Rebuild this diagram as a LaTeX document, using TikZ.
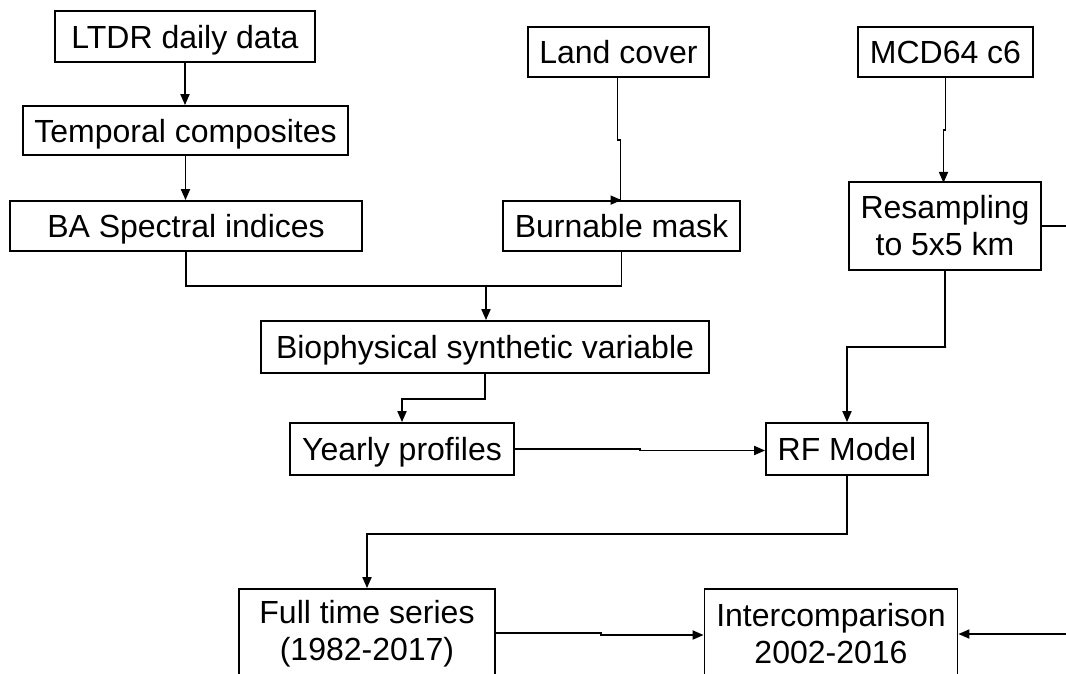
\documentclass[tikz,border=0pt]{standalone}
\usepackage{fontspec}
\setmainfont{Liberation Sans}
\usetikzlibrary{arrows.meta}
\tikzset{
  box/.style={draw=black, line width=1.8pt, fill=white, inner sep=0pt, align=center,
    font=\fontsize{32}{37}\selectfont},
  single/.style={text height=23pt, text depth=0pt},
  conn/.style={draw=black, line width=1.8pt},
  arr/.style={conn, -{Triangle[length=11pt,width=9pt]}}
}
\begin{document}
\begin{tikzpicture}[x=1pt,y=-1pt]
\useasboundingbox (0,0) rectangle (1066,673);
\clip (0,0) rectangle (1066,673);
\fill[white] (0,0) rectangle (1066,673);
% nodes
\node[box, single, minimum width=260pt, minimum height=51pt] (ltdr) at (185,36.5) {LTDR daily data};
\node[box, single, minimum width=325pt, minimum height=49pt] (temp) at (185.5,130.5) {Temporal composites};
\node[box, single, minimum width=352pt, minimum height=50pt] (ba) at (186,226) {BA Spectral indices};
\node[box, single, minimum width=181pt, minimum height=50pt] (land) at (618.5,52) {Land cover};
\node[box, single, minimum width=237pt, minimum height=50pt] (burn) at (621.5,226) {Burnable mask};
\node[box, single, minimum width=175pt, minimum height=50pt] (mcd) at (945.5,52) {MCD64 c6};
\node[box, minimum width=192pt, minimum height=88pt] (res) at (945,226) {Resampling\\to 5x5 km};
\node[box, single, minimum width=448pt, minimum height=52pt] (bio) at (485,347) {Biophysical synthetic variable};
\node[box, single, minimum width=224pt, minimum height=52pt] (yearly) at (402,449) {Yearly profiles};
\node[box, single, minimum width=162pt, minimum height=52pt] (rf) at (847,449) {RF Model};
\node[box, minimum width=256pt, minimum height=90pt] (full) at (367,634) {Full time series\\(1982-2017)};
\node[box, minimum width=253pt, minimum height=90pt] (inter) at (831,634) {Intercomparison\\2002-2016};
% coordinates
\coordinate (j1) at (486,286);
\coordinate (j2) at (946,347);
\coordinate (redge) at (1068,226);
\coordinate (iedge) at (1068,634);
% connectors
\draw[arr] (ltdr.south) -- (ltdr.south |- temp.north);
\draw[arr] (temp.south) -- (temp.south |- ba.north);
\draw[arr] (land.south) ++(-1,0) -- ++(0,62) -- ++(3,0) |- (burn.north);
\draw[arr] (mcd.south) -- ++(0,52) -- ++(-2,0) -- ++(0,53);
\draw[conn] (ba.south) |- (j1) -| (burn.south);
\draw[arr] (j1) -- (j1 |- bio.north);
\draw[arr] (bio.south) -- ++(0,25) -| (yearly.north);
\draw[arr] (yearly.east) -- ++(125,0) -- ++(0,1.5) -- (rf.west |- 0,450.5);
\draw[arr] (res.south) |- (j2) -| (rf.north);
\draw[conn] (res.east) -- (redge);
\draw[arr] (rf.south) -- ++(0,58) -| (full.north);
\draw[arr] (full.east) ++(0,-1) -- ++(105,0) -- ++(0,2) -- (inter.west |- 0,635);
\draw[arr] (iedge) -- (inter.east);
\end{tikzpicture}
\end{document}
